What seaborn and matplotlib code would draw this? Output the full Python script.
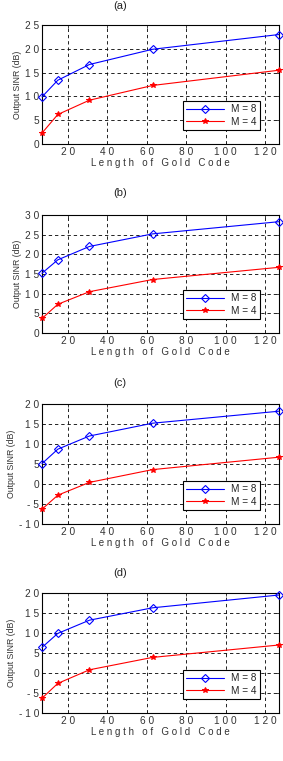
import numpy as np
import pandas as pd
import seaborn as sns
import matplotlib.pyplot as plt

code_len = [7, 15, 31, 63, 127]

# panel (a)
a_m8 = [9.9, 13.4, 16.7, 19.9, 23.0]
a_m4 = [2.3, 6.2, 9.2, 12.3, 15.5]
# panel (b)
b_m8 = [15.2, 18.6, 22.0, 25.2, 28.3]
b_m4 = [3.7, 7.3, 10.5, 13.6, 16.7]
# panel (c)
c_m8 = [5.1, 8.7, 12.0, 15.2, 18.2]
c_m4 = [-6.3, -2.8, 0.4, 3.6, 6.7]
# panel (d)
d_m8 = [6.4, 9.9, 13.2, 16.3, 19.5]
d_m4 = [-6.3, -2.6, 0.8, 3.9, 7.0]

panel_names = ["(a)", "(b)", "(c)", "(d)"]
ylims = [(0, 25), (0, 30), (-10, 20), (-10, 20)]
yticks = [np.arange(0, 26, 5), np.arange(0, 31, 5),
          np.arange(-10, 21, 5), np.arange(-10, 21, 5)]
xticks = [20, 40, 60, 80, 100, 120]

series = [(a_m8, a_m4), (b_m8, b_m4), (c_m8, c_m4), (d_m8, d_m4)]


def spaced(v):
    return " ".join(str(v))


sns.set_style("ticks")
plt.rcParams["font.family"] = ["Liberation Sans", "DejaVu Sans"]

fig = plt.figure(figsize=(2.83, 7.61), dpi=100)

# axes boxes in pixels (top, bottom) and title centre
boxes = [(25, 144), (215, 333), (404, 524), (593, 713)]
title_y = [6, 193, 383, 573]
W, H = 283, 761
txt_col = "#333333"

for i, (name, (m8, m4)) in enumerate(zip(panel_names, series)):
    top, bot = boxes[i]
    ax = fig.add_axes([42 / W, 1 - bot / H, (279 - 42) / W, (bot - top) / H])
    df = pd.DataFrame({
        "x": code_len * 2,
        "y": m8 + m4,
        "M": ["M = 8"] * 5 + ["M = 4"] * 5,
    })
    sns.lineplot(data=df[df.M == "M = 8"], x="x", y="y", ax=ax, color="#0000ff",
                 marker="D", markersize=4.5, markerfacecolor="none",
                 markeredgecolor="#0000ff", markeredgewidth=0.8,
                 linewidth=0.8, label="M = 8", clip_on=False, zorder=5)
    sns.lineplot(data=df[df.M == "M = 4"], x="x", y="y", ax=ax, color="#ff0000",
                 marker="*", markersize=4, markeredgecolor="#ff0000",
                 linewidth=0.8, label="M = 4", clip_on=False, zorder=5)
    ax.set_xlim(7, 127)
    ax.set_ylim(*ylims[i])
    ax.set_xticks(xticks)
    ax.set_xticklabels([spaced(t) for t in xticks], fontsize=7.3, color=txt_col)
    ax.set_yticks(yticks[i])
    ax.set_yticklabels([spaced(t) for t in yticks[i]], fontsize=7.3, color=txt_col)
    ax.tick_params(direction="in", length=2, width=0.6, pad=2,
                   top=True, right=True)
    ax.grid(True, color="black", linestyle=(0, (4, 3.5)), linewidth=0.6)
    for s in ax.spines.values():
        s.set_linewidth(0.8)
        s.set_color("black")
    ax.set_xlabel(" ".join("Length of Gold Code"), fontsize=7, labelpad=1,
                  color=txt_col)
    ax.set_ylabel("Output SINR (dB)", fontsize=6.3, labelpad=2, color=txt_col)
    leg = ax.legend(loc="lower right", bbox_to_anchor=(0.92, 0.115),
                    fontsize=7.2, frameon=True, fancybox=False,
                    handlelength=3.8, borderpad=0.35, labelspacing=0.25,
                    handletextpad=0.7, borderaxespad=0)
    leg.get_frame().set_edgecolor("black")
    leg.get_frame().set_linewidth(0.8)
    leg.get_frame().set_alpha(1)
    fig.text(120 / W, 1 - title_y[i] / H, name, fontsize=8,
             ha="center", va="center", color="#222222")

fig.savefig("out.png", dpi=100)
